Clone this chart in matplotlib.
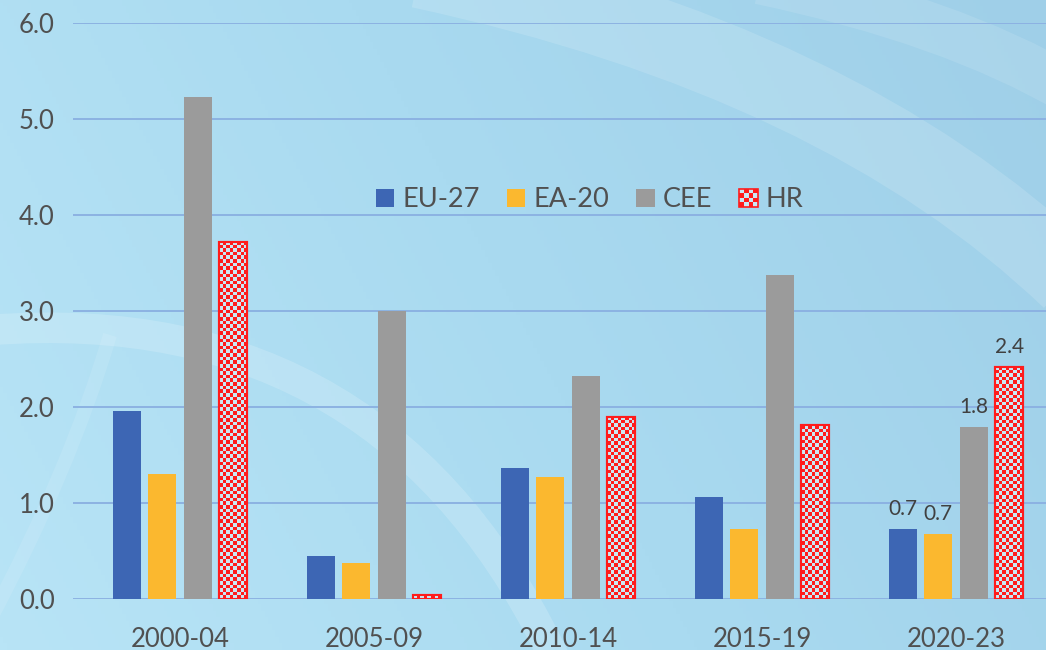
import numpy as np
import matplotlib.pyplot as plt
from matplotlib.colors import ListedColormap, LinearSegmentedColormap
from matplotlib.patches import Rectangle, PathPatch
from matplotlib.path import Path
from matplotlib.legend_handler import HandlerBase

plt.rcParams['font.family'] = ['Lato', 'DejaVu Sans']

# data
periods = ['2000-04', '2005-09', '2010-14', '2015-19', '2020-23']
eu27 = [1.96, 0.45, 1.36, 1.06, 0.73]
ea20 = [1.30, 0.37, 1.27, 0.73, 0.68]
cee = [5.23, 3.00, 2.32, 3.37, 1.79]
hr = [3.72, 0.04, 1.90, 1.81, 2.42]
series_names = ['EU-27', 'EA-20', 'CEE', 'HR']

c_eu = '#3D66B4'
c_ea = '#FBB82F'
c_cee = '#9B9B9B'
c_red = '#FF1C1C'
c_light = '#CBE8F5'
txt = '#505050'
grid_c = '#8CB2E2'

fig = plt.figure(figsize=(10.46, 6.5), dpi=100)

# background with soft gradient and decorative arcs
bg = fig.add_axes([0, 0, 1, 1], zorder=0)
bg.set_xlim(0, 1046)
bg.set_ylim(650, 0)
bg.axis('off')
gx = np.linspace(0, 1, 300)
gy = np.linspace(0, 1, 200)
GX, GY = np.meshgrid(gx, gy)
grad = 0.75 * GX + 0.25 * (1 - GY)
bg_cmap = LinearSegmentedColormap.from_list('bg', ['#B8E4F6', '#A9DAF0', '#9FCFE8'])
bg.imshow(grad, extent=(0, 1046, 650, 0), aspect='auto', cmap=bg_cmap)


def band(p0, pc, p1, lw, alpha):
    path = Path([p0, pc, p1], [Path.MOVETO, Path.CURVE3, Path.CURVE3])
    bg.add_patch(PathPatch(path, facecolor='none', edgecolor='white',
                           lw=lw, alpha=alpha, capstyle='butt'))


band((420, -30), (840, 60), (1070, 280), 55, 0.14)
band((760, -20), (950, 20), (1070, 90), 35, 0.11)
band((-10, 330), (390, 300), (560, 670), 22, 0.17)
band((110, 335), (70, 470), (-10, 620), 10, 0.10)

ax = fig.add_axes([73 / 1046, 51 / 650, 973 / 1046, 576 / 650], zorder=1)
ax.set_facecolor('none')

x = np.arange(len(periods))
pitch = 0.183
width = 0.145
b_eu = ax.bar(x - 1.5 * pitch, eu27, width, color=c_eu, zorder=2)
b_ea = ax.bar(x - 0.5 * pitch, ea20, width, color=c_ea, zorder=2)
b_cee = ax.bar(x + 0.5 * pitch, cee, width, color=c_cee, zorder=2)
b_hr = ax.bar(x + 1.5 * pitch, hr, width, color=c_light, edgecolor=c_red,
              lw=1.5, zorder=2)

ax.set_xlim(-0.552, 4.464)
ax.set_ylim(0, 6)
ax.set_yticks(np.arange(0, 6.1, 1.0))
ax.set_yticklabels([f'{v:.1f}' for v in np.arange(0, 6.1, 1.0)])
ax.set_xticks(x)
ax.set_xticklabels(periods)
ax.grid(axis='y', color=grid_c, lw=1.4, zorder=1)
ax.set_axisbelow(True)
for s in ax.spines.values():
    s.set_visible(False)
ax.tick_params(axis='both', length=0, labelsize=18.5, colors=txt)
ax.tick_params(axis='x', pad=20)
ax.tick_params(axis='y', pad=13)

# checker fill for HR bars
checker_cmap = ListedColormap([c_light, c_red])
fig.canvas.draw()
cell = 3.6
for rect in b_hr:
    x0, y0 = rect.get_x(), rect.get_y()
    w, h = rect.get_width(), rect.get_height()
    p0 = ax.transData.transform((x0, y0))
    p1 = ax.transData.transform((x0 + w, y0 + h))
    ncol = max(1, int(round((p1[0] - p0[0]) / cell)))
    nrow = max(1, int(round((p1[1] - p0[1]) / cell)))
    ii, jj = np.indices((nrow, ncol))
    arr = (ii + jj) % 2
    im = ax.imshow(arr, extent=(x0, x0 + w, y0, y0 + h), origin='lower',
                   aspect='auto', cmap=checker_cmap, interpolation='nearest',
                   zorder=2.5)
    im.set_clip_path(rect)
    ax.add_patch(Rectangle((x0, y0), w, h, fill=False, edgecolor=c_red,
                           lw=1.5, zorder=3))
ax.set_xlim(-0.552, 4.464)
ax.set_ylim(0, 6)

# value labels for last period
last = len(periods) - 1
for bars in (b_eu, b_ea, b_cee, b_hr):
    r = bars[last]
    ax.annotate(f'{r.get_height():.1f}', (r.get_x() + r.get_width() / 2, r.get_height()),
                xytext=(0, 7), textcoords='offset points', ha='center', va='bottom',
                fontsize=15, color='#404040', zorder=4)


class CheckerHandler(HandlerBase):
    def create_artists(self, legend, orig_handle, xdescent, ydescent,
                       width, height, fontsize, trans):
        arts = []
        n = 4
        cw, ch = width / n, height / n
        for i in range(n):
            for j in range(n):
                col = c_red if (i + j) % 2 == 0 else c_light
                arts.append(Rectangle((-xdescent + i * cw, -ydescent + j * ch), cw, ch,
                                      facecolor=col, edgecolor='none', transform=trans))
        arts.append(Rectangle((-xdescent, -ydescent), width, height, fill=False,
                              edgecolor=c_red, lw=1.2, transform=trans))
        return arts


hr_proxy = Rectangle((0, 0), 1, 1)
leg = ax.legend([b_eu, b_ea, b_cee, hr_proxy], series_names, ncol=4,
                loc='center', bbox_to_anchor=(0.531, 0.693), frameon=False,
                fontsize=19.5, handlelength=0.68, handleheight=0.68,
                handletextpad=0.3, columnspacing=1.0,
                handler_map={hr_proxy: CheckerHandler()})
for t in leg.get_texts():
    t.set_color(txt)

fig.savefig('out.png', dpi=100)
